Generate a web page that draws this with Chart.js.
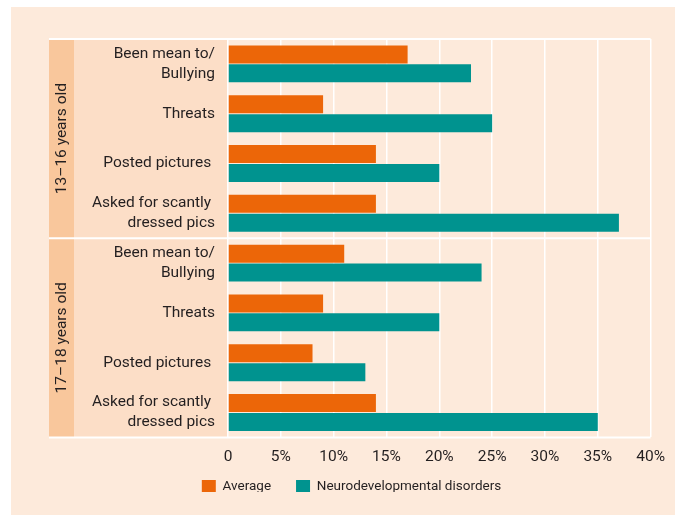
<!DOCTYPE html>
<html>
<head>
<meta charset="utf-8">
<script src="https://cdn.jsdelivr.net/npm/chart.js@4/dist/chart.umd.min.js"></script>
<style>
  body { margin: 0; background: #fff; }
  #wrap { width: 675px; height: 515px; position: relative; }
</style>
</head>
<body>
<div id="wrap"><canvas id="myChart"></canvas></div>
<script>
// chart data
var categories = [
    ['Been mean to/', 'Bullying'], 'Threats', 'Posted pictures ', ['Asked for scantly ', 'dressed pics'],
    ['Been mean to/', 'Bullying'], 'Threats', 'Posted pictures ', ['Asked for scantly ', 'dressed pics']
];
var groups = ['13\u201316 years old', '17\u201318 years old'];
var average = [17, 9, 14, 14, 11, 9, 8, 14];
var neuro = [23, 25, 20, 37, 24, 20, 13, 35];
var seriesNames = ['Average', 'Neurodevelopmental disorders'];
var xTicks = [0, 5, 10, 15, 20, 25, 30, 35, 40];

var orange = '#ec6608';
var teal = '#00938f';
var textColor = '#231f20';

Chart.defaults.font.family = 'Roboto, sans-serif';

var panels = {
    id: 'panels',
    afterInit: function (chart) {
        // legend padding also sets the gap between items, so shrink its box and pull it up
        var lg = chart.legend;
        var origFit = lg.fit;
        lg.fit = function () {
            origFit.apply(this, arguments);
            this.height -= 12;
        };
        var origDraw = lg.draw;
        lg.draw = function () {
            this.ctx.save();
            this.ctx.translate(0, -21);
            origDraw.apply(this, arguments);
            this.ctx.restore();
        };
    },
    beforeDraw: function (chart) {
        var c = chart.ctx, a = chart.chartArea, y = chart.scales.y;
        c.save();
        c.fillStyle = '#ffffff';
        c.fillRect(0, 0, chart.width, chart.height);
        c.fillStyle = '#fdeadb';
        c.fillRect(11, 7, chart.width - 11, chart.height - 7);
        // label column + group band
        c.fillStyle = '#fcdec7';
        c.fillRect(y.left, a.top, a.left - y.left, a.bottom - a.top);
        c.fillStyle = '#f9c79c';
        c.fillRect(y.left, a.top, 25, a.bottom - a.top);
        c.restore();
    },
    beforeDatasetsDraw: function (chart) {
        var c = chart.ctx, a = chart.chartArea, y = chart.scales.y;
        var mid = (y.getPixelForValue(3) + y.getPixelForValue(4)) / 2;
        c.save();
        c.strokeStyle = '#ffffff';
        c.lineWidth = 2;
        [a.top, mid, a.bottom].forEach(function (py) {
            c.beginPath();
            c.moveTo(y.left, py);
            c.lineTo(a.right, py);
            c.stroke();
        });
        c.restore();
    },
    afterDraw: function (chart) {
        var c = chart.ctx, a = chart.chartArea, y = chart.scales.y;
        var mid = (y.getPixelForValue(3) + y.getPixelForValue(4)) / 2;
        var spans = [[a.top, mid], [mid, a.bottom]];
        c.save();
        c.fillStyle = textColor;
        c.font = '15.5px Roboto, sans-serif';
        c.textAlign = 'center';
        c.textBaseline = 'middle';
        groups.forEach(function (g, i) {
            c.save();
            c.translate(y.left + 13, (spans[i][0] + spans[i][1]) / 2);
            c.rotate(-Math.PI / 2);
            c.fillText(g, 0, 0);
            c.restore();
        });
        c.restore();
    }
};

var ctx = document.getElementById('myChart');

var data = {
    labels: categories,
    datasets: [
        {
            label: seriesNames[0],
            data: average,
            backgroundColor: orange,
            barPercentage: 0.95,
            categoryPercentage: 0.76
        }, {
            label: seriesNames[1],
            data: neuro,
            backgroundColor: teal,
            barPercentage: 0.95,
            categoryPercentage: 0.76
        }
    ]
};

var config = {
    type: 'bar',
    data: data,
    options: {
        indexAxis: 'y',
        responsive: true,
        maintainAspectRatio: false,
        animation: false,
        layout: { padding: { left: 49, right: 21, top: 39, bottom: 2 } },
        scales: {
            x: {
                min: 0,
                max: 40,
                afterBuildTicks: function (scale) {
                    scale.ticks = xTicks.map(function (v) { return { value: v }; });
                },
                grid: { color: '#ffffff', lineWidth: 1.5, drawTicks: false },
                border: { display: false },
                ticks: {
                    padding: 10,
                    color: textColor,
                    font: { size: 15.5 },
                    callback: function (v) { return v === 0 ? '0' : v + '%'; }
                }
            },
            y: {
                afterFit: function (scale) { scale.width = 179; },
                grid: { display: false, drawTicks: false },
                border: { display: false },
                ticks: {
                    padding: 13,
                    color: textColor,
                    font: { size: 15.5, lineHeight: 1.3 }
                }
            }
        },
        plugins: {
            legend: {
                position: 'bottom',
                labels: {
                    boxWidth: 14,
                    boxHeight: 14,
                    padding: 25,
                    color: textColor,
                    font: { size: 13.5 }
                }
            },
            tooltip: { enabled: false }
        }
    },
    plugins: [panels]
};

var myChart = new Chart(ctx, config);
</script>
</body>
</html>
